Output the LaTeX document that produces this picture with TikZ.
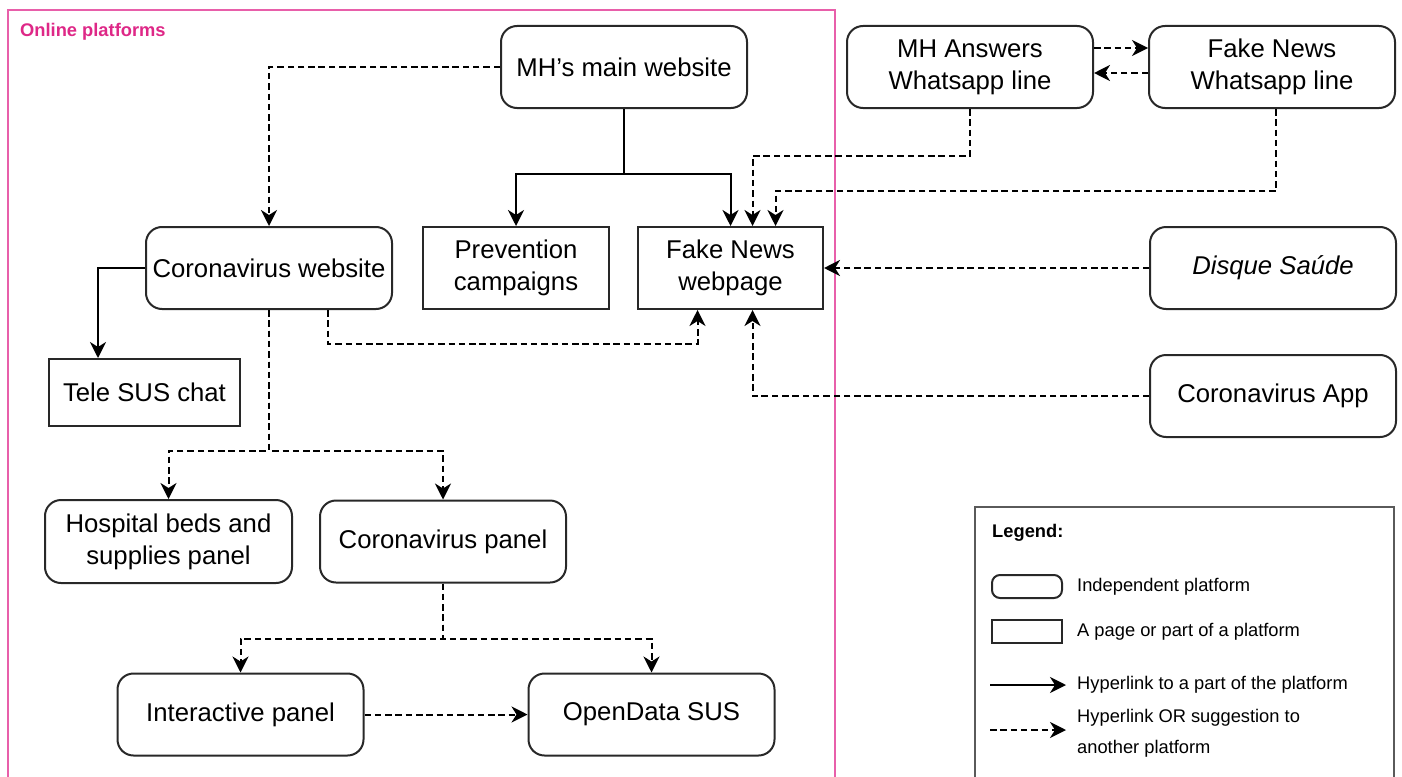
\documentclass[tikz,border=0pt]{standalone}
\usepackage{fontspec}
\setmainfont{Liberation Sans}
\usetikzlibrary{arrows.meta}
\definecolor{pinktxt}{RGB}{222,40,135}
\definecolor{pinkline}{RGB}{232,95,170}
\definecolor{boxline}{RGB}{40,40,40}
\definecolor{legline}{RGB}{90,90,90}
\begin{document}
\begin{tikzpicture}[x=1pt,y=-1pt,
  plat/.style={draw=boxline, line width=2pt, rounded corners=16pt, minimum width=246pt, minimum height=82pt, inner sep=0pt, align=center, font=\fontsize{25.7}{32}\selectfont},
  pagebox/.style={draw=boxline, line width=2pt, inner sep=0pt, align=center, font=\fontsize{25.7}{32}\selectfont},
  slink/.style={line width=2pt, -{Stealth[length=16pt,width=16pt,inset=5pt]}},
  dlink/.style={slink, dash pattern=on 6.5pt off 3.8pt},
  legtext/.style={anchor=west, inner sep=0pt, align=left, font=\fontsize{18.3}{31}\selectfont},
]
\useasboundingbox (0,0) rectangle (1402,776);
% frames
\draw[pinkline, line width=1.8pt] (8,10) rectangle (835,800);
\node[anchor=west, inner sep=0pt, text=pinktxt, font=\fontsize{18.3}{22}\selectfont\bfseries] (olp) at (20,32) {Online platforms};
\draw[legline, line width=1.6pt] (975,507) rectangle (1394,800);

% nodes
\node[plat] (mh) at (624,67) {MH’s main website};
\node[plat] (cw) at (269,268) {Coronavirus website};
\node[pagebox, minimum width=186pt, minimum height=82pt] (prev) at (516,268) {Prevention\\campaigns};
\node[pagebox, minimum width=185pt, minimum height=82pt] (fn) at (730.5,268) {Fake News\\webpage};
\node[pagebox, minimum width=191pt, minimum height=67pt] (tele) at (144.5,392.5) {Tele SUS chat};
\node[plat, minimum width=247pt, minimum height=83pt] (hosp) at (168.5,541.5) {Hospital beds and\\supplies panel};
\node[plat] (cp) at (443,541.5) {Coronavirus panel};
\node[plat] (ip) at (240.5,714.5) {Interactive panel};
\node[plat] (od) at (651.5,714.5) {OpenData SUS};
\node[plat] (mha) at (970,67) {MH Answers\\Whatsapp line};
\node[plat] (fnw) at (1272,67) {Fake News\\Whatsapp line};
\node[plat] (ds) at (1273,268) {\itshape Disque Saúde};
\node[plat] (app) at (1273,396) {Coronavirus App};

% connectors
\draw[dlink] (mh.west) -| (cw.north);
\draw[slink] (mh.south) -- ++(0,65) -| (prev.north);
\draw[slink] (mh.south) -- ++(0,65) -| (fn.north);
\draw[dlink] (mha.south) -- ++(0,47) -| ([xshift=22pt]fn.north);
\draw[dlink] ([xshift=4pt]fnw.south) -- ++(0,82) -| ([xshift=45pt]fn.north);
\draw[dlink] ([yshift=19pt]mha.east) -- ([yshift=19pt]fnw.west);
\draw[dlink] ([yshift=-6pt]fnw.west) -- ([yshift=-6pt]mha.east);
\draw[dlink] (ds.west) -- (fn.east);
\draw[dlink] (app.west) -| ([xshift=22pt]fn.south);
\draw[dlink] ([xshift=59pt]cw.south) -- ++(0,34) -| ([xshift=-33pt]fn.south);
\draw[slink] (cw.west) -| ([xshift=-46.5pt]tele.north);
\draw[dlink] (cw.south) -- ++(0,141) -| (hosp.north);
\draw[dlink] (cw.south) -- ++(0,141) -| (cp.north);
\draw[dlink] (cp.south) -- ++(0,55) -| (ip.north);
\draw[dlink] (cp.south) -- ++(0,55) -| (od.north);
\draw[dlink] (ip.east) -- (od.west);

% legend
\node[anchor=west, inner sep=0pt, font=\fontsize{18.3}{22}\selectfont\bfseries] (legt) at (992,533) {Legend:};
\node[draw=boxline, line width=2pt, rounded corners=8pt, minimum width=70pt, minimum height=23pt, inner sep=0pt] (licon1) at (1027,586.5) {};
\node[legtext] (lt1) at (1077,587) {Independent platform};
\node[draw=boxline, line width=2pt, minimum width=70pt, minimum height=23pt, inner sep=0pt] (licon2) at (1027,631.5) {};
\node[legtext] (lt2) at (1077,632) {A page or part of a platform};
\coordinate (la1) at (990,685);
\coordinate (lb1) at (1066,685);
\draw[slink] (la1) -- (lb1);
\node[legtext] (lt3) at (1077,685) {Hyperlink to a part of the platform};
\coordinate (la2) at (990,730);
\coordinate (lb2) at (1066,730);
\draw[dlink] (la2) -- (lb2);
\node[legtext] (lt4) at (1077,733) {Hyperlink OR suggestion to\\another platform};
\end{tikzpicture}
\end{document}
